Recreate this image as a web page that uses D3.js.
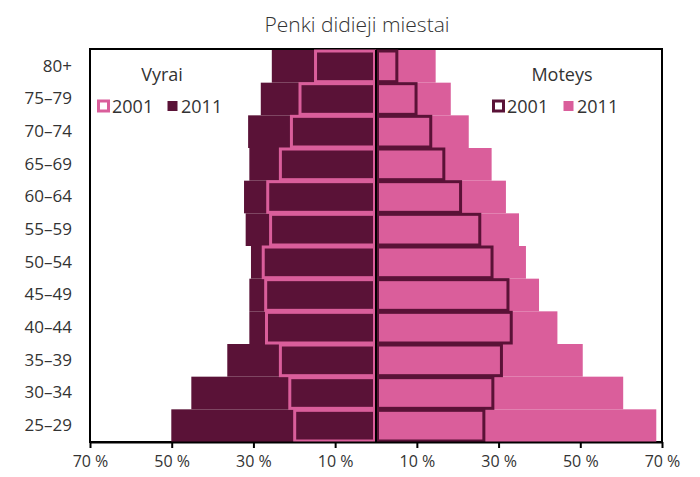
<!DOCTYPE html>
<html>
<head>
<meta charset="utf-8">
<script src="https://cdn.jsdelivr.net/npm/d3@7"></script>
<style>
  body { margin: 0; background: #fff; }
  text { font-family: "Open Sans", "Noto Sans", sans-serif; fill: #333; }
  .axis text { font-size: 16px; }
  .y-axis text { font-size: 17px; }
  .axis line, .axis path { stroke: #000; stroke-width: 2; }
</style>
</head>
<body>
<svg id="chart"></svg>
<script>
// age groups, top to bottom
const ageGroups = ['80+', '75–79', '70–74', '65–69', '60–64', '55–59', '50–54', '45–49', '40–44', '35–39', '30–34', '25–29'];

// men (Vyrai), percent
const men2001 = [14.8, 18.6, 20.7, 23.4, 26.5, 25.8, 27.6, 27.0, 26.8, 23.4, 21.1, 19.9];
const men2011 = [25.5, 28.2, 31.3, 31.0, 32.3, 31.9, 30.6, 31.0, 31.0, 36.4, 45.2, 50.1];

// women (Moteys), percent
const women2001 = [5.1, 9.8, 13.4, 16.6, 20.7, 25.4, 28.4, 32.3, 33.1, 30.7, 28.6, 26.4];
const women2011 = [14.6, 18.3, 22.7, 28.3, 31.8, 35.0, 36.7, 39.9, 44.4, 50.6, 60.5, 68.6];

const xTicks = [-70, -50, -30, -10, 10, 30, 50, 70];

const dark = '#5a1237';
const pink = '#da5e9b';

const config = {
  width: 700,
  height: 477,
  margin: {top: 50, right: 38, bottom: 35, left: 90}
};

const width = config.width - config.margin.left - config.margin.right;
const height = config.height - config.margin.top - config.margin.bottom;

const svg = d3.select('#chart')
    .attr('width', config.width)
    .attr('height', config.height);

// title
svg.append('text')
    .attr('x', 357)
    .attr('y', 32)
    .attr('text-anchor', 'middle')
    .style('font-size', '21px')
    .style('font-weight', 300)
    .text('Penki didieji miestai');

const chart = svg.append('g')
    .attr('transform', `translate(${config.margin.left},${config.margin.top})`);

const xScale = d3.scaleLinear()
    .domain([-70, 70])
    .range([0, width]);

const yScale = d3.scaleBand()
    .domain(ageGroups)
    .range([0, height])
    .padding(0);

// frame
chart.append('rect')
    .attr('x', 0)
    .attr('y', -1)
    .attr('width', width)
    .attr('height', height + 1)
    .attr('fill', 'none')
    .attr('stroke', '#000')
    .attr('stroke-width', 2);

const rows = ageGroups.map((g, i) => ({
  group: g,
  m01: men2001[i], m11: men2011[i],
  w01: women2001[i], w11: women2011[i]
}));

const marks = chart.append('g');

// 2011 bars (solid)
marks.selectAll('.men11')
    .data(rows)
    .join('rect')
    .attr('class', 'men11')
    .attr('x', d => xScale(-d.m11))
    .attr('y', d => yScale(d.group))
    .attr('width', d => xScale(0) - xScale(-d.m11))
    .attr('height', yScale.bandwidth())
    .attr('fill', dark);

marks.selectAll('.women11')
    .data(rows)
    .join('rect')
    .attr('class', 'women11')
    .attr('x', xScale(0))
    .attr('y', d => yScale(d.group))
    .attr('width', d => xScale(d.w11) - xScale(0))
    .attr('height', yScale.bandwidth())
    .attr('fill', pink);

// 2001 bars (outlined)
marks.selectAll('.men01')
    .data(rows)
    .join('rect')
    .attr('class', 'men01')
    .attr('x', d => xScale(-d.m01))
    .attr('y', d => yScale(d.group) + 1)
    .attr('width', d => xScale(0) - xScale(-d.m01) - 1.5)
    .attr('height', yScale.bandwidth() - 2)
    .attr('fill', dark)
    .attr('stroke', pink)
    .attr('stroke-width', 3);

marks.selectAll('.women01')
    .data(rows)
    .join('rect')
    .attr('class', 'women01')
    .attr('x', xScale(0) + 1.5)
    .attr('y', d => yScale(d.group) + 1)
    .attr('width', d => xScale(d.w01) - xScale(0) - 1.5)
    .attr('height', yScale.bandwidth() - 2)
    .attr('fill', pink)
    .attr('stroke', dark)
    .attr('stroke-width', 3);

// centre line
chart.append('line')
    .attr('x1', xScale(0))
    .attr('x2', xScale(0))
    .attr('y1', 0)
    .attr('y2', height)
    .attr('stroke', '#000')
    .attr('stroke-width', 2);

// axes
const xAxis = d3.axisBottom(xScale)
    .tickValues(xTicks)
    .tickSize(6)
    .tickSizeOuter(0)
    .tickPadding(8)
    .tickFormat(d => Math.abs(d) + ' %');

chart.append('g')
    .attr('class', 'axis x-axis')
    .attr('transform', `translate(0,${height})`)
    .call(xAxis);

const yAxis = d3.axisLeft(yScale)
    .tickSize(0)
    .tickPadding(18);

const yAxisG = chart.append('g')
    .attr('class', 'axis y-axis')
    .call(yAxis);
yAxisG.select('.domain').remove();

// legends
function legend(title, titleX, items) {
  const g = chart.append('g');
  g.append('text')
      .attr('x', titleX)
      .attr('y', 31)
      .attr('text-anchor', 'middle')
      .style('font-size', '18px')
      .text(title);
  items.forEach(it => {
    g.append('rect')
        .attr('x', it.x + 1.5)
        .attr('y', 51)
        .attr('width', 10)
        .attr('height', 10)
        .attr('fill', it.fill)
        .attr('stroke', it.stroke)
        .attr('stroke-width', it.stroke === 'none' ? 0 : 3);
    g.append('text')
        .attr('x', it.x + 15)
        .attr('y', 63)
        .style('font-size', '18px')
        .text(it.label);
  });
}

legend('Vyrai', 72, [
  {x: 7, label: '2001', fill: '#fff', stroke: pink},
  {x: 76, label: '2011', fill: dark, stroke: 'none'}
]);

legend('Moteys', 472, [
  {x: 402, label: '2001', fill: '#fff', stroke: dark},
  {x: 472, label: '2011', fill: pink, stroke: 'none'}
]);
</script>
</body>
</html>
